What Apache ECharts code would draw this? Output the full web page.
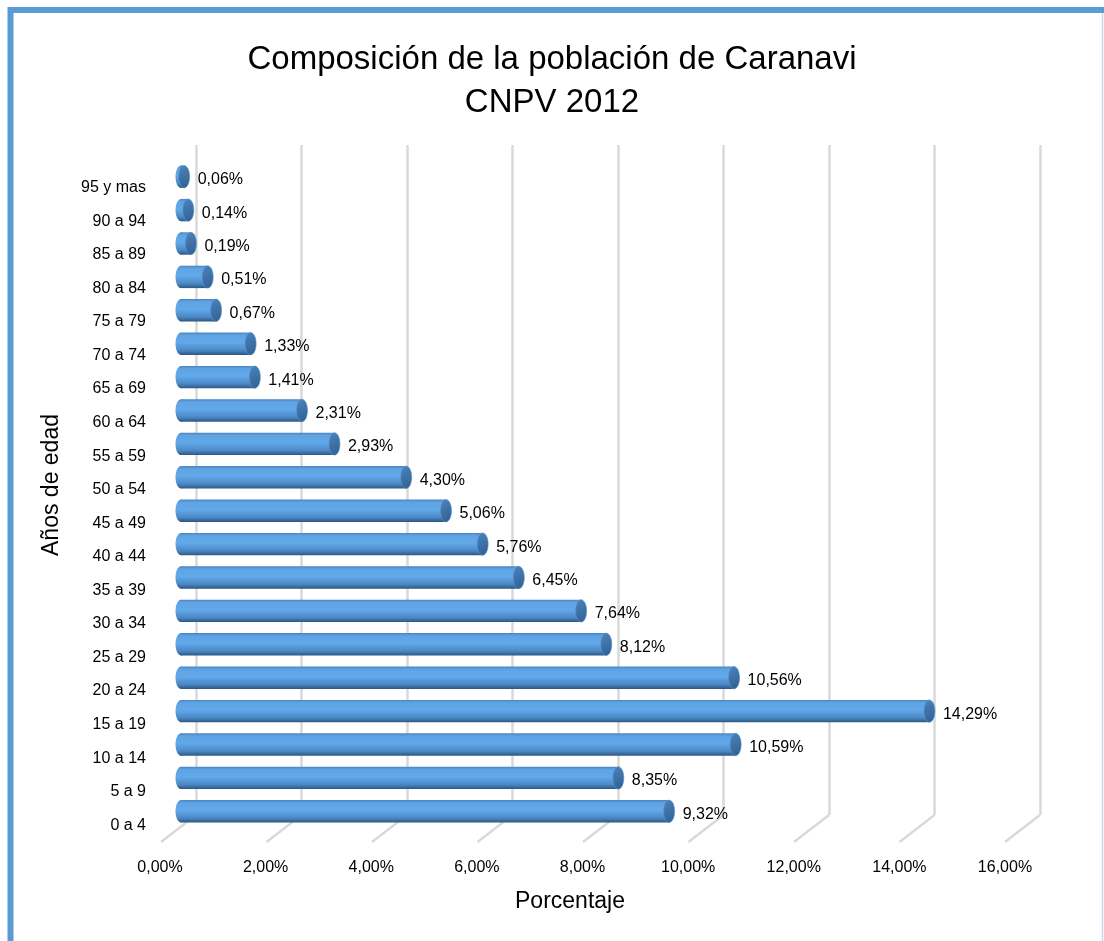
<!DOCTYPE html>
<html>
<head>
<meta charset="utf-8">
<script src="https://cdn.jsdelivr.net/npm/echarts@6/dist/echarts.min.js"></script>
<style>
  html, body { margin: 0; padding: 0; background: #fff; }
  #chart { width: 1104px; height: 941px; }
</style>
</head>
<body>
<div id="chart"></div>
<script>
// grupos de edad (de abajo hacia arriba)
const categories = ['0 a 4', '5 a 9', '10 a 14', '15 a 19', '20 a 24', '25 a 29', '30 a 34',
  '35 a 39', '40 a 44', '45 a 49', '50 a 54', '55 a 59', '60 a 64', '65 a 69', '70 a 74',
  '75 a 79', '80 a 84', '85 a 89', '90 a 94', '95 y mas'];
// porcentaje de la poblacion
const values = [9.32, 8.35, 10.59, 14.29, 10.56, 8.12, 7.64, 6.45, 5.76, 5.06, 4.30,
  2.93, 2.31, 1.41, 1.33, 0.67, 0.51, 0.19, 0.14, 0.06];
const xTicks = [0, 2, 4, 6, 8, 10, 12, 14, 16];

const fmt = v => v.toFixed(2).replace('.', ',') + '%';
const FONT = '"Liberation Sans", Arial, sans-serif';

const chart = echarts.init(document.getElementById('chart'));

function cylinder (params, api) {
  const idx = api.value(0);
  const v = api.value(1);
  const start = api.coord([0, idx]);
  const end = api.coord([v, idx]);
  const h = api.size([0, 1])[1] * 0.67;
  const rx = 5.5;
  const cy = start[1];
  const body = new echarts.graphic.LinearGradient(0, 0, 0, 1, [
    { offset: 0, color: '#4A84C2' },
    { offset: 0.12, color: '#5FA3E2' },
    { offset: 0.45, color: '#62A9EB' },
    { offset: 0.8, color: '#4B88C4' },
    { offset: 1, color: '#2C5783' }
  ]);
  const cap = new echarts.graphic.LinearGradient(0, 0, 1, 1, [
    { offset: 0, color: '#4C84BD' },
    { offset: 1, color: '#2F5F90' }
  ]);
  return {
    type: 'group',
    children: [{
      type: 'ellipse',
      shape: { cx: start[0], cy: cy, rx: rx, ry: h / 2 },
      style: { fill: body }
    }, {
      type: 'rect',
      shape: { x: start[0], y: cy - h / 2, width: Math.max(end[0] - start[0], 0), height: h },
      style: { fill: body }
    }, {
      type: 'ellipse',
      shape: { cx: end[0], cy: cy, rx: rx, ry: h / 2 },
      style: { fill: cap, stroke: '#5C93CC', lineWidth: 0.6 }
    }, {
      type: 'text',
      x: end[0] + rx + 8,
      y: cy + 3,
      style: {
        text: fmt(v),
        fill: '#000',
        font: '16px ' + FONT,
        verticalAlign: 'middle'
      }
    }]
  };
}

function floorLine (params, api) {
  const p = api.coord([api.value(0), 0]);
  return {
    type: 'line',
    shape: { x1: p[0], y1: p[1], x2: p[0] - 35, y2: p[1] + 27 },
    style: { stroke: '#D9D9D9', lineWidth: 2.5 }
  };
}

chart.setOption({
  animation: false,
  title: {
    text: 'Composición de la población de Caranavi\nCNPV 2012',
    left: 'center',
    top: 33,
    textStyle: { fontFamily: FONT, fontWeight: 'normal', fontSize: 33, lineHeight: 43, color: '#000' }
  },
  graphic: [{
    type: 'rect',
    shape: { x: 10.5, y: 10, width: 1300, height: 1300 },
    style: { fill: null, stroke: '#5B9BD5', lineWidth: 6 },
    z: 10
  }, {
    type: 'line',
    shape: { x1: 1102.5, y1: 13, x2: 1102.5, y2: 941 },
    style: { stroke: '#C9D6E3', lineWidth: 1.5 }
  }, {
    type: 'text',
    x: 52, y: 485,
    rotation: Math.PI / 2,
    style: { text: 'Años de edad', font: '23px ' + FONT, fill: '#000', align: 'center', verticalAlign: 'middle' }
  }, {
    type: 'text',
    x: 570, y: 902,
    style: { text: 'Porcentaje', font: '23px ' + FONT, fill: '#000', align: 'center', verticalAlign: 'middle' }
  }],
  grid: [
    // pared del fondo
    { left: 196, right: 64, top: 145, bottom: 126 },
    // barras
    { left: 181, right: 85, top: 160, bottom: 113 },
    // etiquetas
    { left: 160, right: 99, top: 171, bottom: 99 }
  ],
  xAxis: [{
    gridIndex: 0, type: 'value', min: 0, max: 16, interval: 2,
    axisLine: { show: false }, axisTick: { show: false }, axisLabel: { show: false },
    splitLine: { show: true, lineStyle: { color: '#D9D9D9', width: 2.5 } }
  }, {
    gridIndex: 1, type: 'value', min: 0, max: 16, interval: 2, show: false
  }, {
    gridIndex: 2, type: 'value', min: 0, max: 16, interval: 2,
    axisLine: { show: false }, axisTick: { show: false }, splitLine: { show: false },
    axisLabel: {
      margin: 18, color: '#000', fontSize: 16, fontFamily: FONT,
      formatter: v => xTicks.includes(v) ? fmt(v) : ''
    }
  }],
  yAxis: [{
    gridIndex: 0, type: 'value', min: 0, max: 1, show: false
  }, {
    gridIndex: 1, type: 'category', data: categories, show: false
  }, {
    gridIndex: 2, type: 'category', data: categories,
    axisLine: { show: false }, axisTick: { show: false },
    axisLabel: { margin: 14, color: '#000', fontSize: 16, fontFamily: FONT }
  }],
  series: [{
    type: 'custom',
    xAxisIndex: 0, yAxisIndex: 0,
    renderItem: floorLine,
    data: xTicks.map(t => [t]),
    silent: true
  }, {
    type: 'custom',
    xAxisIndex: 1, yAxisIndex: 1,
    renderItem: cylinder,
    encode: { x: 1, y: 0 },
    data: values.map((v, i) => [i, v]),
    z: 3
  }]
});
</script>
</body>
</html>
